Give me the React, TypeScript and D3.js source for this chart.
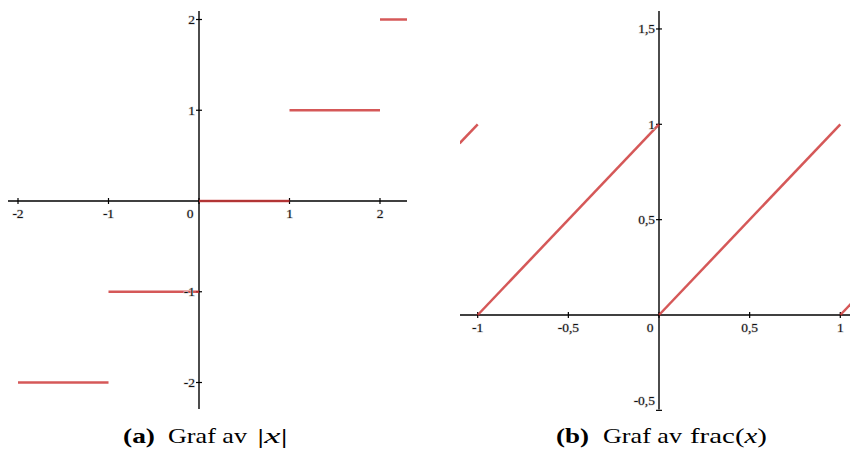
import React from "react";
import * as d3 from "d3";

// Left chart: floor(x) step segments
const floorStartX = [-2, -1, 0, 1, 2];
const floorEndX = [-1, 0, 1, 2, 2.3];
const floorY = [-2, -1, 0, 1, 2];
const leftXTicks = [-2, -1, 0, 1, 2];
const leftYTicks = [-2, -1, 1, 2];

// Right chart: frac(x) sawtooth segments
const fracStartX = [-1.1, -1, 0, 1];
const fracStartY = [0.9, 0, 0, 0];
const fracEndX = [-1, 0, 1, 1.06];
const fracEndY = [1, 1, 1, 0.06];
const rightXTicks = [-1, -0.5, 0, 0.5, 1];
const rightYTicks = [-0.5, 0.5, 1, 1.5];

const captionLabels = ["(a)", "(b)"];
const captionWords = ["Graf av", "Graf av"];

const fmt = (v: number) => String(v).replace(".", ",");

const LINE = "#cc3333";
const FONT = '"Liberation Serif", "Times New Roman", serif';

function Label({ x, y, text, anchor = "middle" }: { x: number; y: number; text: string; anchor?: string }) {
  return (
    <text
      x={x}
      y={y}
      textAnchor={anchor as any}
      dominantBaseline="central"
      fill="#111"
      stroke="#d4d4d4"
      strokeWidth={1.1}
      style={{ paintOrder: "stroke", fontFamily: FONT, fontSize: "13.5px" }}
    >
      {text}
    </text>
  );
}

export default function App() {
  // Left chart scales
  const lx = d3.scaleLinear().domain([-2, 2]).range([18, 380]);
  const ly = d3.scaleLinear().domain([-2, 2]).range([382.5, 19.5]);
  const lxMin = 8, lxMax = 407, lyTop = 11, lyBot = 409;

  // Right chart scales
  const rx = d3.scaleLinear().domain([-1, 1]).range([477.7, 840.3]);
  const ry = d3.scaleLinear().domain([0, 1]).range([315, 124.3]);
  const rxMin = 460, rxMax = 850, ryTop = 11, ryBot = 409.5;

  const lineGen = d3.line<[number, number]>();
  const capStyle = { fontFamily: FONT, fontSize: "21px" };

  return (
    <svg
      width={850}
      height={450}
      style={{ position: "absolute", left: 0, top: 0, background: "#fff" }}
    >
      <defs>
        <clipPath id="clipR">
          <rect x={rxMin} y={0} width={rxMax - rxMin} height={420} />
        </clipPath>
        <clipPath id="clipL">
          <rect x={lxMin} y={0} width={lxMax - lxMin} height={420} />
        </clipPath>
      </defs>

      {/* LEFT CHART */}
      <g>
        <line x1={lxMin} x2={lxMax} y1={ly(0)} y2={ly(0)} stroke="#000" strokeWidth={1.4} />
        <line x1={lx(0)} x2={lx(0)} y1={lyTop} y2={lyBot} stroke="#000" strokeWidth={1.4} />
        {leftXTicks.map((t) => (
          <line key={"lxt" + t} x1={lx(t)} x2={lx(t)} y1={ly(0) - 3} y2={ly(0) + 3} stroke="#000" strokeWidth={1.2} />
        ))}
        {leftYTicks.map((t) => (
          <line key={"lyt" + t} x1={lx(0) - 3} x2={lx(0) + 3} y1={ly(t)} y2={ly(t)} stroke="#000" strokeWidth={1.2} />
        ))}
        <g clipPath="url(#clipL)">
          {floorStartX.map((s, i) => (
            <path
              key={"fl" + i}
              d={lineGen([
                [lx(s), ly(floorY[i])],
                [lx(floorEndX[i]), ly(floorY[i])],
              ]) as string}
              stroke={LINE}
              strokeOpacity={0.82}
              strokeWidth={2.5}
              fill="none"
            />
          ))}
        </g>
        {leftXTicks.map((t) =>
          t === 0 ? (
            <Label key={"lxl" + t} x={lx(0) - 9} y={ly(0) + 12.5} text={fmt(t)} />
          ) : (
            <Label key={"lxl" + t} x={lx(t)} y={ly(0) + 12.5} text={fmt(t)} />
          )
        )}
        {leftYTicks.map((t) => (
          <Label key={"lyl" + t} x={lx(0) - 4} y={ly(t)} text={fmt(t)} anchor="end" />
        ))}
      </g>

      {/* RIGHT CHART */}
      <g>
        <line x1={rxMin} x2={rxMax} y1={ry(0)} y2={ry(0)} stroke="#000" strokeWidth={1.4} />
        <line x1={rx(0)} x2={rx(0)} y1={ryTop} y2={ryBot} stroke="#000" strokeWidth={1.4} />
        {rightXTicks.map((t) => (
          <line key={"rxt" + t} x1={rx(t)} x2={rx(t)} y1={ry(0) - 3} y2={ry(0) + 3} stroke="#000" strokeWidth={1.2} />
        ))}
        {rightYTicks.map((t) => (
          <line key={"ryt" + t} x1={rx(0) - 3} x2={rx(0) + 3} y1={ry(t)} y2={ry(t)} stroke="#000" strokeWidth={1.2} />
        ))}
        <g clipPath="url(#clipR)">
          {fracStartX.map((s, i) => (
            <path
              key={"fr" + i}
              d={lineGen([
                [rx(s), ry(fracStartY[i])],
                [rx(fracEndX[i]), ry(fracEndY[i])],
              ]) as string}
              stroke={LINE}
              strokeOpacity={0.82}
              strokeWidth={2.5}
              fill="none"
            />
          ))}
        </g>
        {rightXTicks.map((t) =>
          t === 0 ? (
            <Label key={"rxl" + t} x={rx(0) - 9} y={ry(0) + 12.5} text={fmt(t)} />
          ) : (
            <Label key={"rxl" + t} x={rx(t)} y={ry(0) + 12.5} text={fmt(t)} />
          )
        )}
        {rightYTicks.map((t) => (
          <Label
            key={"ryl" + t}
            x={rx(0) - 4}
            y={t < 0 ? ry(t) - 10 : ry(t)}
            text={fmt(t)}
            anchor="end"
          />
        ))}
      </g>

      {/* CAPTIONS */}
      <g fill="#000">
        <text x={123} y={443} style={capStyle} fontWeight="bold" textLength={32} lengthAdjust="spacingAndGlyphs">
          {captionLabels[0]}
        </text>
        <text x={168} y={443} style={capStyle} textLength={79} lengthAdjust="spacingAndGlyphs">
          {captionWords[0]}
        </text>
        <text x={257} y={443} style={capStyle} textLength={31} lengthAdjust="spacingAndGlyphs">
          <tspan>|</tspan>
          <tspan fontStyle="italic">x</tspan>
          <tspan>|</tspan>
        </text>

        <text x={556} y={443} style={capStyle} fontWeight="bold" textLength={33} lengthAdjust="spacingAndGlyphs">
          {captionLabels[1]}
        </text>
        <text x={603} y={443} style={capStyle} textLength={79} lengthAdjust="spacingAndGlyphs">
          {captionWords[1]}
        </text>
        <text x={690} y={443} style={capStyle} textLength={77} lengthAdjust="spacingAndGlyphs">
          <tspan>frac(</tspan>
          <tspan fontStyle="italic">x</tspan>
          <tspan>)</tspan>
        </text>
      </g>
    </svg>
  );
}
